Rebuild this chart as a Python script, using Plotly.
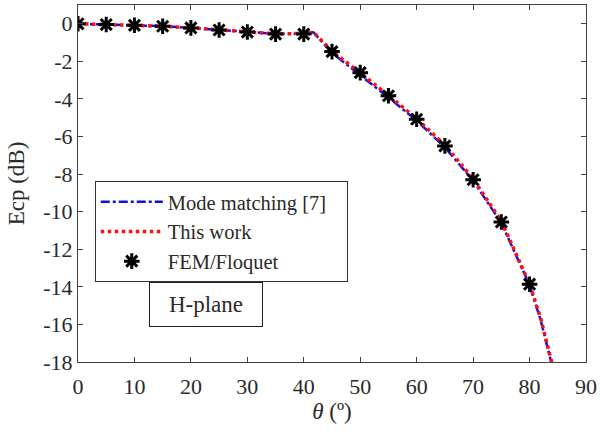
import plotly.graph_objects as go

# FEM/Floquet reference points
theta_fem = [0, 5, 10, 15, 20, 25, 30, 35, 40, 45, 50, 55, 60, 65, 70, 75, 80]
ecp_fem = [0, -0.04, -0.08, -0.13, -0.22, -0.33, -0.44, -0.55, -0.55,
           -1.48, -2.6, -3.83, -5.08, -6.5, -8.3, -10.55, -13.86]

# Curves
theta_line = [0, 5, 10, 15, 20, 25, 30, 35, 40, 41.7, 45, 50, 55, 60, 65, 70, 75, 80, 82, 84]
ecp_mode = [0, -0.04, -0.08, -0.13, -0.22, -0.33, -0.44, -0.53, -0.52, -0.45,
            -1.55, -2.72, -3.92, -5.15, -6.58, -8.35, -10.6, -13.9, -15.8, -18.2]
ecp_this = [0, -0.04, -0.08, -0.13, -0.22, -0.33, -0.44, -0.53, -0.52, -0.45,
            -1.45, -2.6, -3.8, -5.05, -6.45, -8.25, -10.5, -13.85, -15.7, -18.1]

x_ticks = [0, 10, 20, 30, 40, 50, 60, 70, 80, 90]
y_ticks = [0, -2, -4, -6, -8, -10, -12, -14, -16, -18]

FONT = "Liberation Serif, Times New Roman, serif"
AX = "#404040"
TXT = "#2a2a2a"

fig = go.Figure()
fig.add_trace(go.Scatter(x=theta_line, y=ecp_mode, mode="lines",
                         name="Mode matching [7]\u00a0\u00a0\u00a0",
                         line=dict(color="#1010e0", width=2.5, dash="dashdot")))
fig.add_trace(go.Scatter(x=theta_line, y=ecp_this, mode="lines", name="This work",
                         line=dict(color="#ff1010", width=3.5, dash="dot")))
fig.add_trace(go.Scatter(x=theta_fem, y=ecp_fem, mode="markers", name="FEM/Floquet",
                         marker=dict(symbol="asterisk-open", size=13, color="black",
                                     line=dict(color="black", width=3))))

fig.add_annotation(x=22.7, y=-14.96, xref="x", yref="y", text="H-plane", showarrow=False,
                   font=dict(family=FONT, size=23, color=TXT),
                   bordercolor="#222", borderwidth=1, borderpad=5,
                   width=102, height=33, bgcolor="white")

axis_common = dict(showline=True, linecolor=AX, linewidth=1, mirror="ticks",
                   ticks="inside", ticklen=5, tickcolor=AX, showgrid=False, zeroline=False,
                   tickfont=dict(family=FONT, size=22, color=TXT))

fig.update_xaxes(range=[0, 90], tickvals=x_ticks, ticktext=[str(v) for v in x_ticks],
                 ticklabelstandoff=5,
                 title=dict(text="<i>θ</i> (º)", font=dict(family=FONT, size=23, color=TXT),
                            standoff=1),
                 **axis_common)
fig.update_yaxes(range=[-18, 1], tickvals=y_ticks, ticktext=[str(v) for v in y_ticks],
                 title=dict(text="Ecp (dB)", font=dict(family=FONT, size=23, color=TXT),
                            standoff=12),
                 **axis_common)

fig.update_layout(
    width=600, height=432,
    margin=dict(l=78, r=14, t=5, b=70, autoexpand=False),
    paper_bgcolor="white", plot_bgcolor="white",
    showlegend=True,
    legend=dict(x=0.033, y=0.507, xanchor="left", yanchor="top",
                bgcolor="white", bordercolor="#333", borderwidth=1,
                font=dict(family=FONT, size=20.5, color=TXT),
                itemwidth=62, tracegroupgap=0),
)

fig.write_html("out.html", config={"displayModeBar": False},
               post_script="document.body.style.margin='0px';")
